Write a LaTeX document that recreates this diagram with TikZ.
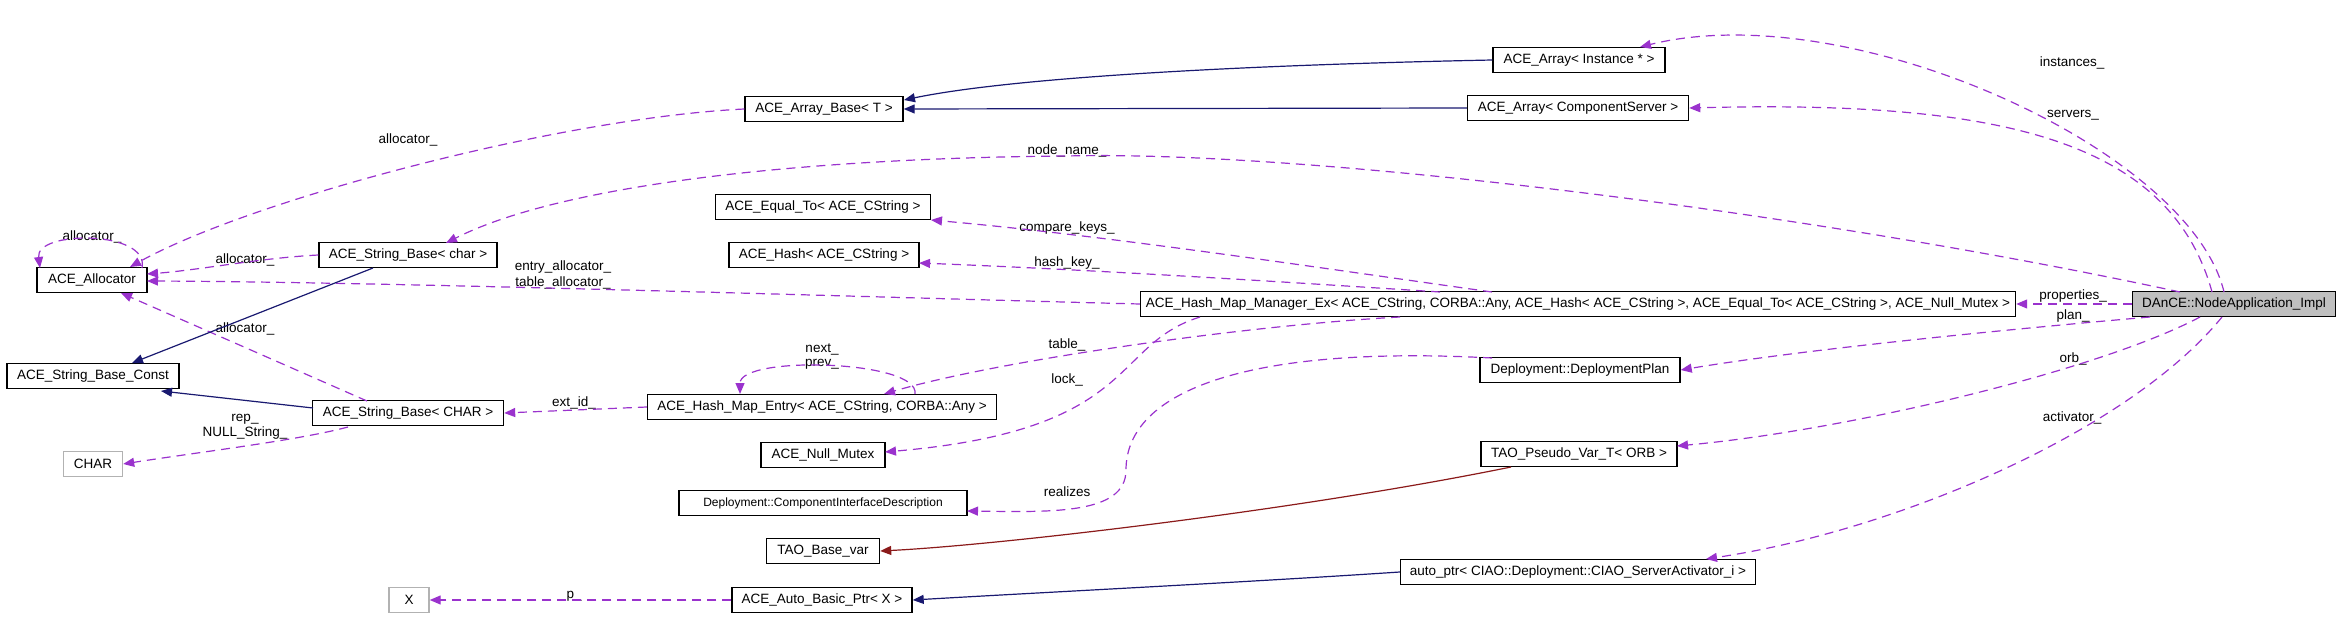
\documentclass[tikz,border=0pt]{standalone}
\usepackage{fontspec}
\setmainfont{Liberation Sans}
\usepackage{tikz}
\usetikzlibrary{arrows.meta}

\definecolor{memb}{HTML}{9A32CD}
\definecolor{inher}{HTML}{191970}
\definecolor{priv}{HTML}{8B1A1A}

\tikzset{
  cls/.style={draw=black, line width=1.4pt, minimum height=25pt, inner sep=0pt, font=\fontsize{13.5}{15}\selectfont},
  lbl/.style={inner sep=0pt, font=\fontsize{13.5}{15}\selectfont},
  use/.style={draw=memb, line width=1.2pt, dash pattern=on 9pt off 6pt, -{Triangle[length=11pt,width=9pt]}},
  isa/.style={draw=inher, line width=1.2pt, -{Triangle[length=11pt,width=9pt]}}
}

\begin{document}
\begin{tikzpicture}[x=1pt,y=-1pt]
            \useasboundingbox (0,0) rectangle (2341,628);
            \begin{scope}[every node/.style={cls}]
                \node[minimum width=110pt] (alloc) at (92,280) {ACE\_Allocator};
                \node[minimum width=172pt] (sbconst) at (93,376) {ACE\_String\_Base\_Const};
                \node[minimum width=59pt, draw=black!30] (charT) at (93,464) {CHAR};

                \node[minimum width=178pt] (sbchar) at (408,255) {ACE\_String\_Base< char >};
                \node[minimum width=191pt] (sbCHAR) at (408,413) {ACE\_String\_Base< CHAR >};
                \node[minimum width=40pt, draw=black!30] (xT) at (409,600) {X};

                \node[minimum width=158pt] (arrbase) at (824,109) {ACE\_Array\_Base< T >};
                \node[minimum width=215pt] (equal) at (823,207) {ACE\_Equal\_To< ACE\_CString >};
                \node[minimum width=190pt] (hash) at (824,255) {ACE\_Hash< ACE\_CString >};
                \node[minimum width=349pt] (entry) at (822,407) {ACE\_Hash\_Map\_Entry< ACE\_CString, CORBA::Any >};
                \node[minimum width=124pt] (mutex) at (823,455) {ACE\_Null\_Mutex};
                \node[minimum width=288pt, font=\fontsize{12}{14}\selectfont] (cid) at (823,503) {Deployment::ComponentInterfaceDescription};
                \node[minimum width=113pt] (basevar) at (823,551) {TAO\_Base\_var};
                \node[minimum width=180pt] (autobasic) at (822,600) {ACE\_Auto\_Basic\_Ptr< X >};

                \node[minimum width=172pt] (arrinst) at (1579,60) {ACE\_Array< Instance * >};
                \node[minimum width=221pt] (arrserv) at (1578,108) {ACE\_Array< ComponentServer >};
                \node[minimum width=875pt] (manager) at (1578,304) {ACE\_Hash\_Map\_Manager\_Ex< ACE\_CString, CORBA::Any, ACE\_Hash< ACE\_CString >, ACE\_Equal\_To< ACE\_CString >, ACE\_Null\_Mutex >};
                \node[minimum width=200pt] (plan) at (1580,370) {Deployment::DeploymentPlan};
                \node[minimum width=196pt] (pseudo) at (1579,454) {TAO\_Pseudo\_Var\_T< ORB >};
                \node[minimum width=355pt] (autoptr) at (1578,572) {auto\_ptr< CIAO::Deployment::CIAO\_ServerActivator\_i >};

                \node[minimum width=203pt, fill=black!25] (impl) at (2234,304) {DAnCE::NodeApplication\_Impl};
            \end{scope}
            \begin{scope}[every node/.style={lbl}]
                \node (linst) at (2072,63) {instances\_};
                \node (lserv) at (2073,115) {servers\_};
                \node (lprop) at (2073,296) {properties\_};
                \node (lplan) at (2073,316) {plan\_};
                \node (lorb) at (2073,359) {orb\_};
                \node (lact) at (2072,418) {activator\_};
                \node (lname) at (1067,151) {node\_name\_};
                \node (lcmp) at (1067,228) {compare\_keys\_};
                \node (lhash) at (1067,263) {hash\_key\_};
                \node (ltable) at (1067,345) {table\_};
                \node (llock) at (1067,380) {lock\_};
                \node (lnext) at (822,349) {next\_};
                \node (lprev) at (822,364) {prev\_};
                \node (lreal) at (1067,492) {realizes};
                \node (lp) at (574,596) {p\_};
                \node (lext) at (574,403) {ext\_id\_};
                \node (lentry) at (563,267) {entry\_allocator\_};
                \node (ltab) at (563,283) {table\_allocator\_};
                \node (lself) at (92,237) {allocator\_};
                \node (lachar) at (245,260) {allocator\_};
                \node (labase) at (408,140) {allocator\_};
                \node (laCHAR) at (245,329) {allocator\_};
                \node (lrep) at (245,419) {rep\_};
                \node (lnull) at (245,433) {NULL\_String\_};
            \end{scope}
            \begin{scope}
                % members of the node application
                \draw[use] (2224,292) .. controls (2190,150) and (1850,-5) .. (1640,47);
                \draw[use] (2212,292) .. controls (2170,140) and (2000,100) .. (arrserv.east);
                \draw[use] (2180,292) .. controls (1800,210) and (1300,150) .. (1067,156) .. controls (800,158) and (560,185) .. (446,243);
                \draw[use] (impl.west) -- (manager.east);
                \draw[use] (2150,317) .. controls (2000,330) and (1800,350) .. (plan.east);
                \draw[use] (2200,317) .. controls (2100,370) and (1850,430) .. (1677,446);
                \draw[use] (2222,317) .. controls (2130,430) and (1900,530) .. (1706,559);

                % members of the hash map manager
                \draw[use] (manager.west) .. controls (900,298) and (400,282) .. (147,281);
                \draw[use] (1492,292) .. controls (1300,265) and (1100,235) .. (931,220);
                \draw[use] (1440,292) .. controls (1300,283) and (1100,270) .. (919,263);
                \draw[use] (1400,317) .. controls (1250,325) and (1000,360) .. (884,394);
                \draw[use] (1200,317) .. controls (1110,345) and (1140,430) .. (885,452);
                \draw[use] (1492,358) .. controls (1250,345) and (1126,390) .. (1126,470) .. controls (1126,515) and (1050,512) .. (967,511);

                % hash map entry
                \draw[use] (915,394) .. controls (920,360) and (740,355) .. (740,394);
                \draw[use] (entry.west) -- (sbCHAR.east);

                % allocators and strings
                \draw[use] (142,268) .. controls (150,230) and (35,230) .. (40,268);
                \draw[use] (sbchar.west) .. controls (260,258) and (200,270) .. (147,274);
                \draw[use] (arrbase.west) .. controls (560,118) and (250,200) .. (130,267);
                \draw[use] (367,401) -- (121,293);
                \draw[use] (348,427) .. controls (300,440) and (200,452) .. (charT.east);
                \draw[use] (autobasic.west) -- (xT.east);

                % inheritance
                \draw[isa] (373,268) -- (132,363);
                \draw[isa] (313,408) -- (161,391);
                \draw[isa] (arrinst.west) .. controls (1200,66) and (1000,80) .. (904,100);
                \draw[isa] (arrserv.west) -- (arrbase.east);
                \draw[isa] (autoptr.west) .. controls (1250,582) and (1050,592) .. (autobasic.east);
                \draw[isa, draw=priv] (1511,467) .. controls (1300,510) and (1000,545) .. (basevar.east);
            \end{scope}
        \end{tikzpicture}
\end{document}
